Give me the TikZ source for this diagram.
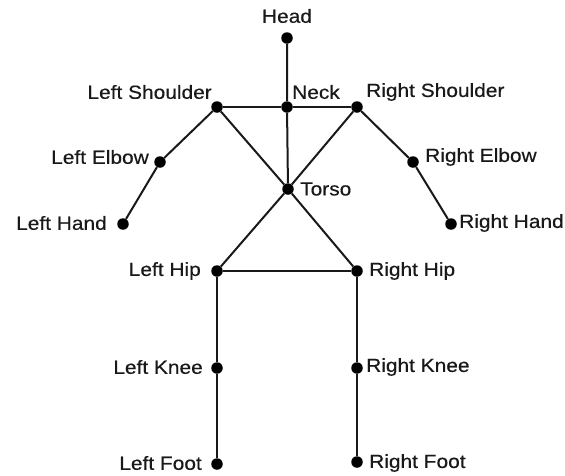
\documentclass[tikz,border=0pt]{standalone}
\usepackage{fontspec}
\setmainfont[FakeStretch=1.1,FakeBold=0.4]{Liberation Sans}
\begin{document}
\begin{tikzpicture}[x=1pt,y=-1pt,
  joint/.style={circle,fill=black,inner sep=0pt,minimum size=11.5pt},
  lbl/.style={inner sep=0pt,font=\fontsize{19}{21}\selectfont,text=black!90},
  bone/.style={line width=2pt,black!90}]
\useasboundingbox (0,0) rectangle (565,475);
% joints
\node[joint] (head)  at (287,38)  {};
\node[joint] (neck)  at (287,107) {};
\node[joint] (lsh)   at (217,107) {};
\node[joint] (rsh)   at (357,107) {};
\node[joint] (lelb)  at (160,162) {};
\node[joint] (relb)  at (413,162) {};
\node[joint] (lhand) at (123,224) {};
\node[joint] (rhand) at (451,224) {};
\node[joint] (torso) at (288,189) {};
\node[joint] (lhip)  at (217,271) {};
\node[joint] (rhip)  at (357,271) {};
\node[joint] (lknee) at (217,368) {};
\node[joint] (rknee) at (357,368) {};
\node[joint] (lfoot) at (217,464) {};
\node[joint] (rfoot) at (357,462) {};
% bones
\draw[bone] (head) -- (neck) -- (torso);
\draw[bone] (lsh) -- (neck) -- (rsh);
\draw[bone] (lsh) -- (lelb) -- (lhand);
\draw[bone] (rsh) -- (relb) -- (rhand);
\draw[bone] (lsh) -- (torso) -- (rhip);
\draw[bone] (rsh) -- (torso) -- (lhip);
\draw[bone] (lhip) -- (rhip);
\draw[bone] (lhip) -- (lknee) -- (lfoot);
\draw[bone] (rhip) -- (rknee) -- (rfoot);
% labels
\node[lbl] (tHead)  at (287,16) {Head};
\node[lbl,anchor=west] (tNeck) at (292,92) {Neck};
\node[lbl,anchor=east] (tLsh)  at (212,92) {Left Shoulder};
\node[lbl,anchor=west] (tRsh)  at (366,92) {Right Shoulder};
\node[lbl,anchor=east] (tLelb) at (149,157) {Left Elbow};
\node[lbl,anchor=west] (tRelb) at (425,157) {Right Elbow};
\node[lbl,anchor=east] (tLhand) at (107,223) {Left Hand};
\node[lbl,anchor=west] (tRhand) at (459,223) {Right Hand};
\node[lbl,anchor=west] (tTorso) at (300,189) {Torso};
\node[lbl,anchor=east] (tLhip) at (201,271) {Left Hip};
\node[lbl,anchor=west] (tRhip) at (369,271) {Right Hip};
\node[lbl,anchor=east] (tLknee) at (203,367) {Left Knee};
\node[lbl,anchor=west] (tRknee) at (366,367) {Right Knee};
\node[lbl,anchor=east] (tLfoot) at (202,463) {Left Foot};
\node[lbl,anchor=west] (tRfoot) at (369,463) {Right Foot};
\end{tikzpicture}
\end{document}
